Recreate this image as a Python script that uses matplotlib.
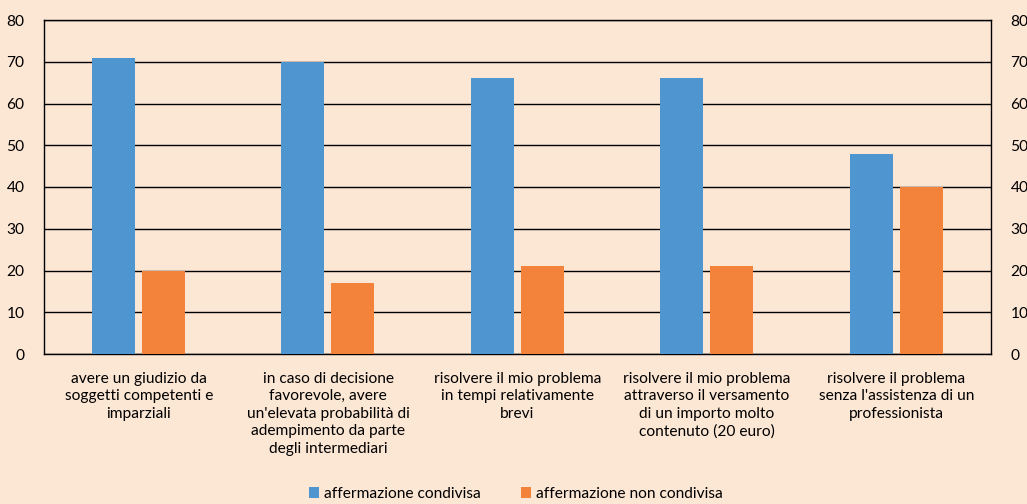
import matplotlib
matplotlib.use("Agg")
import matplotlib.pyplot as plt
import numpy as np
from matplotlib.patches import Patch

categories = [
    "avere un giudizio da\nsoggetti competenti e\nimparziali",
    "in caso di decisione\nfavorevole, avere\nun'elevata probabilità di\nadempimento da parte\ndegli intermediari",
    "risolvere il mio problema\nin tempi relativamente\nbrevi",
    "risolvere il mio problema\nattraverso il versamento\ndi un importo molto\ncontenuto (20 euro)",
    "risolvere il problema\nsenza l'assistenza di un\nprofessionista",
]
condivisa = [71, 70, 66, 66, 48]
non_condivisa = [20, 17, 21, 21, 40]
series_names = ["affermazione condivisa", "affermazione non condivisa"]
yticks = [0, 10, 20, 30, 40, 50, 60, 70, 80]

bg = "#FCE6D4"
blue = "#4F96D0"
orange = "#F3823A"
plt.rcParams['font.family'] = ['Lato', 'DejaVu Sans']
fs = 11.2

fig = plt.figure(figsize=(10.27, 5.04), dpi=100, facecolor=bg)
ax = fig.add_axes([44/1027, 1-354/504, (991-44)/1027, (354-20)/504])
ax.set_facecolor(bg)

x = np.arange(len(categories))
w = 0.227
ax.bar(x - 0.133, condivisa, width=w, color=blue, zorder=3)
ax.bar(x + 0.131, non_condivisa, width=w, color=orange, zorder=3)

ax.set_xlim(-0.5, len(categories) - 0.5)
ax.set_ylim(0, 80)
ax.set_yticks(yticks)
ax.yaxis.grid(True, color="black", linewidth=1.0, zorder=0)
ax.set_axisbelow(True)
for s in ["left", "right", "top", "bottom"]:
    ax.spines[s].set_color("black")
    ax.spines[s].set_linewidth(1.0)
ax.tick_params(axis="y", length=0, labelsize=fs, pad=14, colors="black")
ax.tick_params(axis="x", length=0)
ax.set_xticks(x)
ax.set_xticklabels([])
for xi, lab in zip(x, categories):
    ax.text(xi, -4.2, lab, ha="center", va="top", fontsize=fs, linespacing=1.33,
            transform=ax.transData)

ax2 = ax.twinx()
ax2.set_ylim(0, 80)
ax2.set_yticks(yticks)
ax2.tick_params(axis="y", length=0, labelsize=fs, pad=14, colors="black")
for s in ["left", "right", "top", "bottom"]:
    ax2.spines[s].set_visible(False)

handles = [Patch(facecolor=blue), Patch(facecolor=orange)]
fig.legend(handles, series_names, loc="center", bbox_to_anchor=(516/1027, 1-494/504),
           ncol=2, frameon=False, fontsize=fs, handlelength=0.65, handleheight=0.65,
           handletextpad=0.3, columnspacing=2.6)

fig.savefig("out.png", dpi=100, facecolor=bg)
